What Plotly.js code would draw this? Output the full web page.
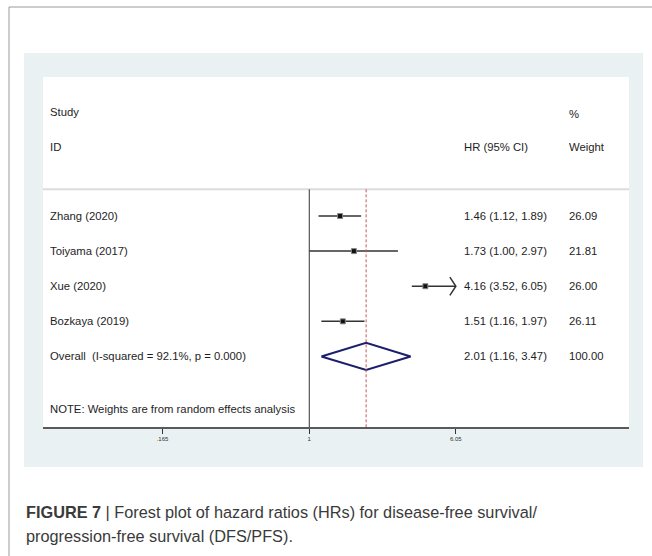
<!DOCTYPE html>
<html>
<head>
<meta charset="utf-8">
<script src="https://cdn.plot.ly/plotly-3.0.1.min.js"></script>
<style>html,body{margin:0;padding:0;background:#fff;}#chart{width:652px;height:556px;}</style>
</head>
<body>
<div id="chart"></div>
<script>
// ---- data ----
const studies = ["Zhang (2020)", "Toiyama (2017)", "Xue (2020)", "Bozkaya (2019)"];
const hr = [1.46, 1.73, 4.16, 1.51];
const ciLow = [1.12, 1.00, 3.52, 1.16];
const ciHigh = [1.89, 2.97, 6.05, 1.97];
const weights = ["26.09", "21.81", "26.00", "26.11"];
const overallLabel = "Overall\u00a0 (I-squared = 92.1%, p = 0.000)";
const overallHR = 2.01;
const overallLow = 1.16;
const overallHigh = 3.47;
const overallWeight = "100.00";
const tickVals = [0.165, 1, 6.05];
const tickText = [".165", "1", "6.05"];
const axisMax = 6.05;
const noteText = "NOTE: Weights are from random effects analysis";
const captionBold = "FIGURE 7";
const captionLine1 = " | Forest plot of hazard ratios (HRs) for disease-free survival/";
const captionLine2 = "progression-free survival (DFS/PFS).";

// ---- build ----
const fmt = v => v.toFixed(2);
const rowY = studies.map((s, i) => i);
const overallY = studies.length;
const noteY = overallY + 1.49;
const sepY = -0.76;
const yTop = -3.96, yBot = 6.01;

// CI lines
const ciX = [], ciY = [];
studies.forEach((s, i) => {
  ciX.push(ciLow[i], Math.min(ciHigh[i], axisMax), null);
  ciY.push(rowY[i], rowY[i], null);
});
// arrows for CIs reaching the axis limit
const arrX = [], arrY = [];
studies.forEach((s, i) => {
  if (ciHigh[i] >= axisMax) {
    const back = axisMax * 0.929;
    arrX.push(back, axisMax, back, null);
    arrY.push(rowY[i] - 0.26, rowY[i], rowY[i] + 0.26, null);
  }
});

const traces = [
  {x: ciX, y: ciY, mode: 'lines', line: {color: '#333', width: 1.5}, hoverinfo: 'skip', showlegend: false},
  {x: arrX, y: arrY, mode: 'lines', line: {color: '#333', width: 1.5}, hoverinfo: 'skip', showlegend: false},
  {x: hr, y: rowY, mode: 'markers', marker: {symbol: 'square', size: 5, color: '#111', line: {color: '#888', width: 1}}, showlegend: false},
  {x: [overallLow, overallHR, overallHigh, overallHR, overallLow],
   y: [overallY, overallY - 0.386, overallY, overallY + 0.386, overallY],
   mode: 'lines', line: {color: '#1c1f6b', width: 2}, showlegend: false, hoverinfo: 'skip'}
];

const txtFont = {family: 'Liberation Sans, Arial, sans-serif', size: 11.3, color: '#1e1e1e'};
const colStudy = 0.0085, colHR = 0.7145, colW = 0.8935;
const ann = [];
function addText(text, xp, y) {
  ann.push({text: text, xref: 'paper', yref: 'y', x: xp, y: y, xanchor: 'left', yanchor: 'middle', showarrow: false, font: txtFont});
}
addText('Study', colStudy, -2.96);
addText('ID', colStudy, -1.98);
addText('HR (95% CI)', colHR, -1.98);
addText('%', colW, -2.9);
addText('Weight', colW, -1.98);
studies.forEach((s, i) => {
  addText(s, colStudy, rowY[i]);
  addText(fmt(hr[i]) + ' (' + fmt(ciLow[i]) + ', ' + fmt(ciHigh[i]) + ')', colHR, rowY[i]);
  addText(weights[i], colW, rowY[i]);
});
addText(overallLabel, colStudy, overallY);
addText(fmt(overallHR) + ' (' + fmt(overallLow) + ', ' + fmt(overallHigh) + ')', colHR, overallY);
addText(overallWeight, colW, overallY);
addText(noteText, colStudy, noteY);

// caption
const capFont = {family: 'Liberation Sans, Arial, sans-serif', size: 16.3, color: '#3a3a3a'};
ann.push({text: '<b>' + captionBold + '</b>' + captionLine1, xref: 'paper', yref: 'paper', x: -0.0324, y: -0.243,
  xanchor: 'left', yanchor: 'middle', showarrow: false, font: capFont});
ann.push({text: captionLine2, xref: 'paper', yref: 'paper', x: -0.0324, y: -0.3114,
  xanchor: 'left', yanchor: 'middle', showarrow: false, font: capFont});

const shapes = [
  // blue panel
  {type: 'rect', xref: 'paper', yref: 'paper', x0: -0.0324, x1: 1.0239, y0: -0.1143, y1: 1.0686,
   fillcolor: '#e9f1f3', line: {width: 0}, layer: 'below'},
  // white plot area
  {type: 'rect', xref: 'paper', yref: 'paper', x0: 0, x1: 1, y0: 0, y1: 1,
   fillcolor: '#ffffff', line: {width: 0}, layer: 'below'},
  // outer border
  {type: 'line', xref: 'paper', yref: 'paper', x0: -0.058, x1: -0.058, y0: 1.2, y1: -0.37, line: {color: '#9a9a9a', width: 1}},
  {type: 'line', xref: 'paper', yref: 'paper', x0: -0.058, x1: 1.04, y0: 1.2, y1: 1.2, line: {color: '#9a9a9a', width: 1}},
  // header separator
  {type: 'line', xref: 'paper', yref: 'y', x0: 0, x1: 1, y0: sepY, y1: sepY, line: {color: '#dcdcdc', width: 2}},
  // null line at 1
  {type: 'line', xref: 'x', yref: 'y', x0: 1, x1: 1, y0: sepY, y1: yBot, line: {color: '#333', width: 1}},
  // overall dashed line
  {type: 'line', xref: 'x', yref: 'y', x0: overallHR, x1: overallHR, y0: sepY, y1: yBot, line: {color: '#c4575a', width: 1, dash: '3px,2px'}}
];

const layout = {
  width: 652, height: 556,
  margin: {l: 43, r: 23, t: 77, b: 129, pad: 0},
  paper_bgcolor: '#ffffff', plot_bgcolor: 'rgba(0,0,0,0)',
  showlegend: false,
  xaxis: {type: 'log', range: [-1.420, 1.705], tickvals: tickVals, ticktext: tickText,
    ticks: 'outside', ticklen: 5, tickcolor: '#333', tickwidth: 1,
    tickfont: {family: 'Liberation Sans, Arial, sans-serif', size: 6, color: '#333'},
    showline: true, linecolor: '#5a5a5a', linewidth: 2, showgrid: false, zeroline: false, fixedrange: true},
  yaxis: {range: [yBot, yTop], visible: false, showgrid: false, zeroline: false, fixedrange: true},
  shapes: shapes,
  annotations: ann
};

Plotly.newPlot('chart', traces, layout, {displayModeBar: false, staticPlot: true});
</script>
</body>
</html>
